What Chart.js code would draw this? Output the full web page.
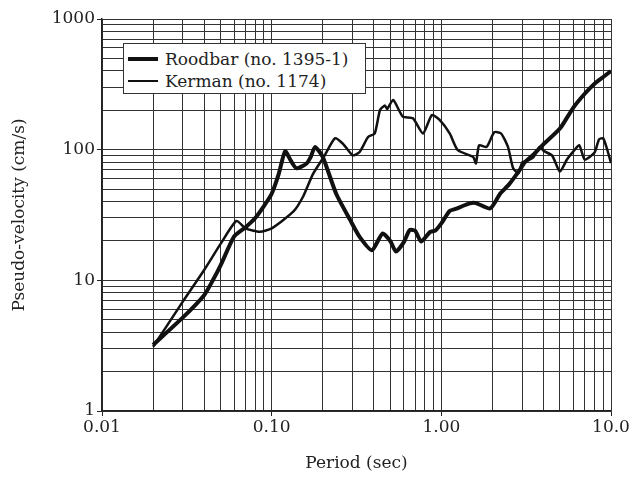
<!DOCTYPE html>
<html lang="en">
<head>
<meta charset="UTF-8">
<title>Pseudo-velocity spectra</title>
<script src="https://cdn.jsdelivr.net/npm/chart.js"></script>
<style>
  body { margin: 0; background: #fff; font-family: 'DejaVu Serif', serif; }
  .wrap { position: relative; width: 631px; height: 477px; }
  .legend {
    position: absolute; left: 123px; top: 43px; width: 241px; height: 49px;
    background: #fff; border: 1.5px solid #333; font-size: 17px; color: #222;
  }
  .legend .row { position: absolute; left: 4px; height: 20px; display: flex; align-items: center; white-space: nowrap; }
  .legend .swatch { width: 30px; background: #111; margin-right: 7px; }
</style>
</head>
<body>
<div class="wrap">
  <canvas id="chart" width="631" height="477"></canvas>
  <div class="legend">
    <div class="row" style="top:5px"><span class="swatch" style="height:4px"></span>Roodbar (no. 1395-1)</div>
    <div class="row" style="top:27px"><span class="swatch" style="height:2.5px"></span>Kerman (no. 1174)</div>
  </div>
</div>
<script>
// Roodbar (no. 1395-1), thick line
const roodbarPeriod = [0.02, 0.03, 0.04, 0.045, 0.05, 0.06, 0.07, 0.08, 0.09, 0.10, 0.11, 0.12, 0.13, 0.14, 0.16, 0.17, 0.18, 0.20, 0.24, 0.29, 0.33, 0.39, 0.45, 0.50, 0.54, 0.60, 0.65, 0.70, 0.76, 0.86, 0.92, 1.0, 1.12, 1.2, 1.47, 1.6, 1.94, 2.22, 2.5, 2.9, 3.1, 3.5, 4.0, 5.0, 6.0, 7.0, 8.0, 9.0, 10.0];
const roodbarPSV    = [3.2, 5.2, 7.7, 10, 13, 21.6, 25.4, 30, 37, 46, 65, 97, 82, 72, 78, 88, 105, 88, 46, 29, 21.5, 17, 22.8, 20, 16.6, 19.5, 24.2, 24, 19.8, 23.5, 24, 27.3, 34, 35, 38.8, 39, 35.5, 46, 54, 70, 80, 92, 110, 145, 210, 268, 320, 360, 400];

// Kerman (no. 1174), thin line
const kermanPeriod = [0.02, 0.03, 0.04, 0.05, 0.062, 0.07, 0.0853, 0.10, 0.134, 0.153, 0.175, 0.197, 0.205, 0.236, 0.263, 0.30, 0.33, 0.37, 0.405, 0.435, 0.465, 0.48, 0.52, 0.593, 0.68, 0.78, 0.88, 0.98, 1.12, 1.25, 1.54, 1.6, 1.67, 1.85, 2.05, 2.25, 2.47, 2.65, 2.85, 3.0, 3.2, 3.5, 3.8, 4.0, 4.5, 5.0, 5.5, 6.0, 6.5, 7.0, 8.0, 8.5, 9.0, 9.5, 10.0];
const kermanPSV    = [3.1, 6.9, 12, 19, 28.5, 25, 23.5, 25, 33.5, 43.6, 65, 83, 90, 122, 111, 90.6, 96, 125, 133, 201, 218, 205, 240, 179, 174, 133, 184, 168, 133, 99, 88, 78.5, 108, 105, 136, 133, 105, 72, 66, 80, 82, 88, 105, 98, 90, 68, 84, 97, 108, 84, 95, 120, 122, 100, 79];

// axis labels at the decades
const xTickValues = [0.01, 0.1, 1, 10];
const xTickLabels = ['0.01', '0.10', '1.00', '10.0'];
const yTickValues = [1, 10, 100, 1000];
const yTickLabels = ['1', '10', '100', '1000'];

function logGrid(lo, hi) {
  const out = [];
  for (let d = lo; d < hi; d *= 10) {
    for (let m = 1; m < 10; m++) out.push(+(m * d).toPrecision(3));
  }
  out.push(hi);
  return out;
}
const findMajor = (vals, v) => vals.findIndex(t => Math.abs(t - v) / t < 1e-6);

const font = { family: "'DejaVu Serif', serif", size: 17 };
const ink = '#222';

new Chart(document.getElementById('chart'), {
  type: 'line',
  data: {
    datasets: [{
      label: 'Roodbar (no. 1395-1)',
      data: roodbarPeriod.map((p, i) => ({ x: p, y: roodbarPSV[i] })),
      borderColor: '#111',
      borderWidth: 4,
      pointRadius: 0,
      tension: 0.2
    }, {
      label: 'Kerman (no. 1174)',
      data: kermanPeriod.map((p, i) => ({ x: p, y: kermanPSV[i] })),
      borderColor: '#111',
      borderWidth: 2.5,
      pointRadius: 0,
      tension: 0.2
    }]
  },
  options: {
    responsive: false,
    animation: false,
    layout: { padding: { left: 0, right: 20, top: 19, bottom: 0 } },
    plugins: { legend: { display: false }, tooltip: { enabled: false } },
    scales: {
      x: {
        type: 'logarithmic',
        min: 0.01, max: 10,
        afterBuildTicks: s => { s.ticks = logGrid(0.01, 10).map(v => ({ value: v })); },
        afterFit: s => { s.height = 66; },
        border: { color: ink, width: 1.5 },
        grid: {
          color: '#333', lineWidth: 1, tickLength: 5,
          tickColor: c => findMajor(xTickValues, c.tick.value) >= 0 ? ink : 'rgba(0,0,0,0)'
        },
        ticks: {
          autoSkip: false, maxRotation: 0, padding: 1, color: ink, font,
          callback: v => { const i = findMajor(xTickValues, v); return i >= 0 ? xTickLabels[i] : ''; }
        },
        title: { display: true, text: 'Period (sec)', color: ink, font, padding: { top: 0, bottom: 3 } }
      },
      y: {
        type: 'logarithmic',
        min: 1, max: 1000,
        afterBuildTicks: s => { s.ticks = logGrid(1, 1000).map(v => ({ value: v })); },
        afterFit: s => { s.width = 102; },
        border: { color: ink, width: 1.5 },
        grid: {
          color: '#333', lineWidth: 1, tickLength: 5,
          tickColor: c => findMajor(yTickValues, c.tick.value) >= 0 ? ink : 'rgba(0,0,0,0)'
        },
        ticks: {
          autoSkip: false, padding: 2, color: ink, font,
          callback: v => { const i = findMajor(yTickValues, v); return i >= 0 ? yTickLabels[i] : ''; }
        },
        title: { display: true, text: 'Pseudo-velocity (cm/s)', color: ink, font, padding: { top: 9, bottom: 0 } }
      }
    }
  }
});
</script>
</body>
</html>
